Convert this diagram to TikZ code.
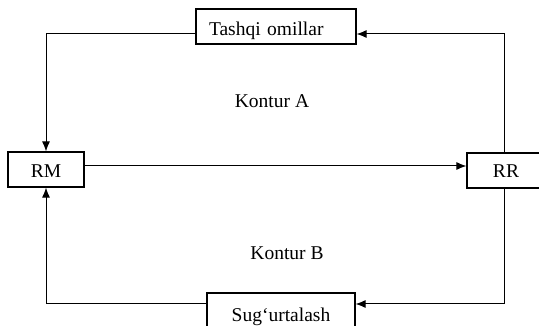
\documentclass[tikz,border=0pt]{standalone}
\usepackage{fontspec}
\setmainfont{Liberation Serif}
\usetikzlibrary{arrows.meta}
\begin{document}
\begin{tikzpicture}[x=1pt,y=-1pt,
  box/.style={draw,line width=1.2pt,inner sep=0pt,text depth=0pt,font=\fontsize{19.5}{22}\selectfont},
  lbl/.style={font=\fontsize{19.5}{22}\selectfont,inner sep=0pt},
  conn/.style={line width=1pt},
  arr/.style={conn,-{Latex[length=10pt,width=8pt]}}]
\useasboundingbox (0,0) rectangle (539,326);
\clip (0,0) rectangle (539,326);
\node[box,minimum width=160pt,minimum height=35pt,text width=134pt,align=left,inner xsep=13pt,text height=18pt] (tash) at (276,26.5) {Tashqi omillar};
\node[box,minimum width=76pt,minimum height=35pt,text height=16pt] (RM) at (46,169.5) {RM};
\node[box,minimum width=78pt,minimum height=35pt,text height=15pt] (RR) at (506,170.5) {RR};
\node[box,minimum width=148pt,minimum height=40pt,text height=16pt] (sug) at (281,313) {Sug‘urtalash};
\node[lbl] (ka) at (272,101) {Kontur A};
\node[lbl] (kb) at (287,253) {Kontur B};
\draw[arr] ([xshift=-2pt]RR.north) |- ([yshift=-7.5pt]tash.east);
\draw[arr] ([yshift=-7.5pt]tash.west) -| (RM.north);
\draw[arr] ([yshift=3.5pt]RM.east) -- ([yshift=3.5pt]RM.east -| RR.west);
\draw[arr] ([xshift=-2pt]RR.south) |- ([yshift=9pt]sug.east);
\draw[arr] ([yshift=9pt]sug.west) -| (RM.south);
\end{tikzpicture}
\end{document}
